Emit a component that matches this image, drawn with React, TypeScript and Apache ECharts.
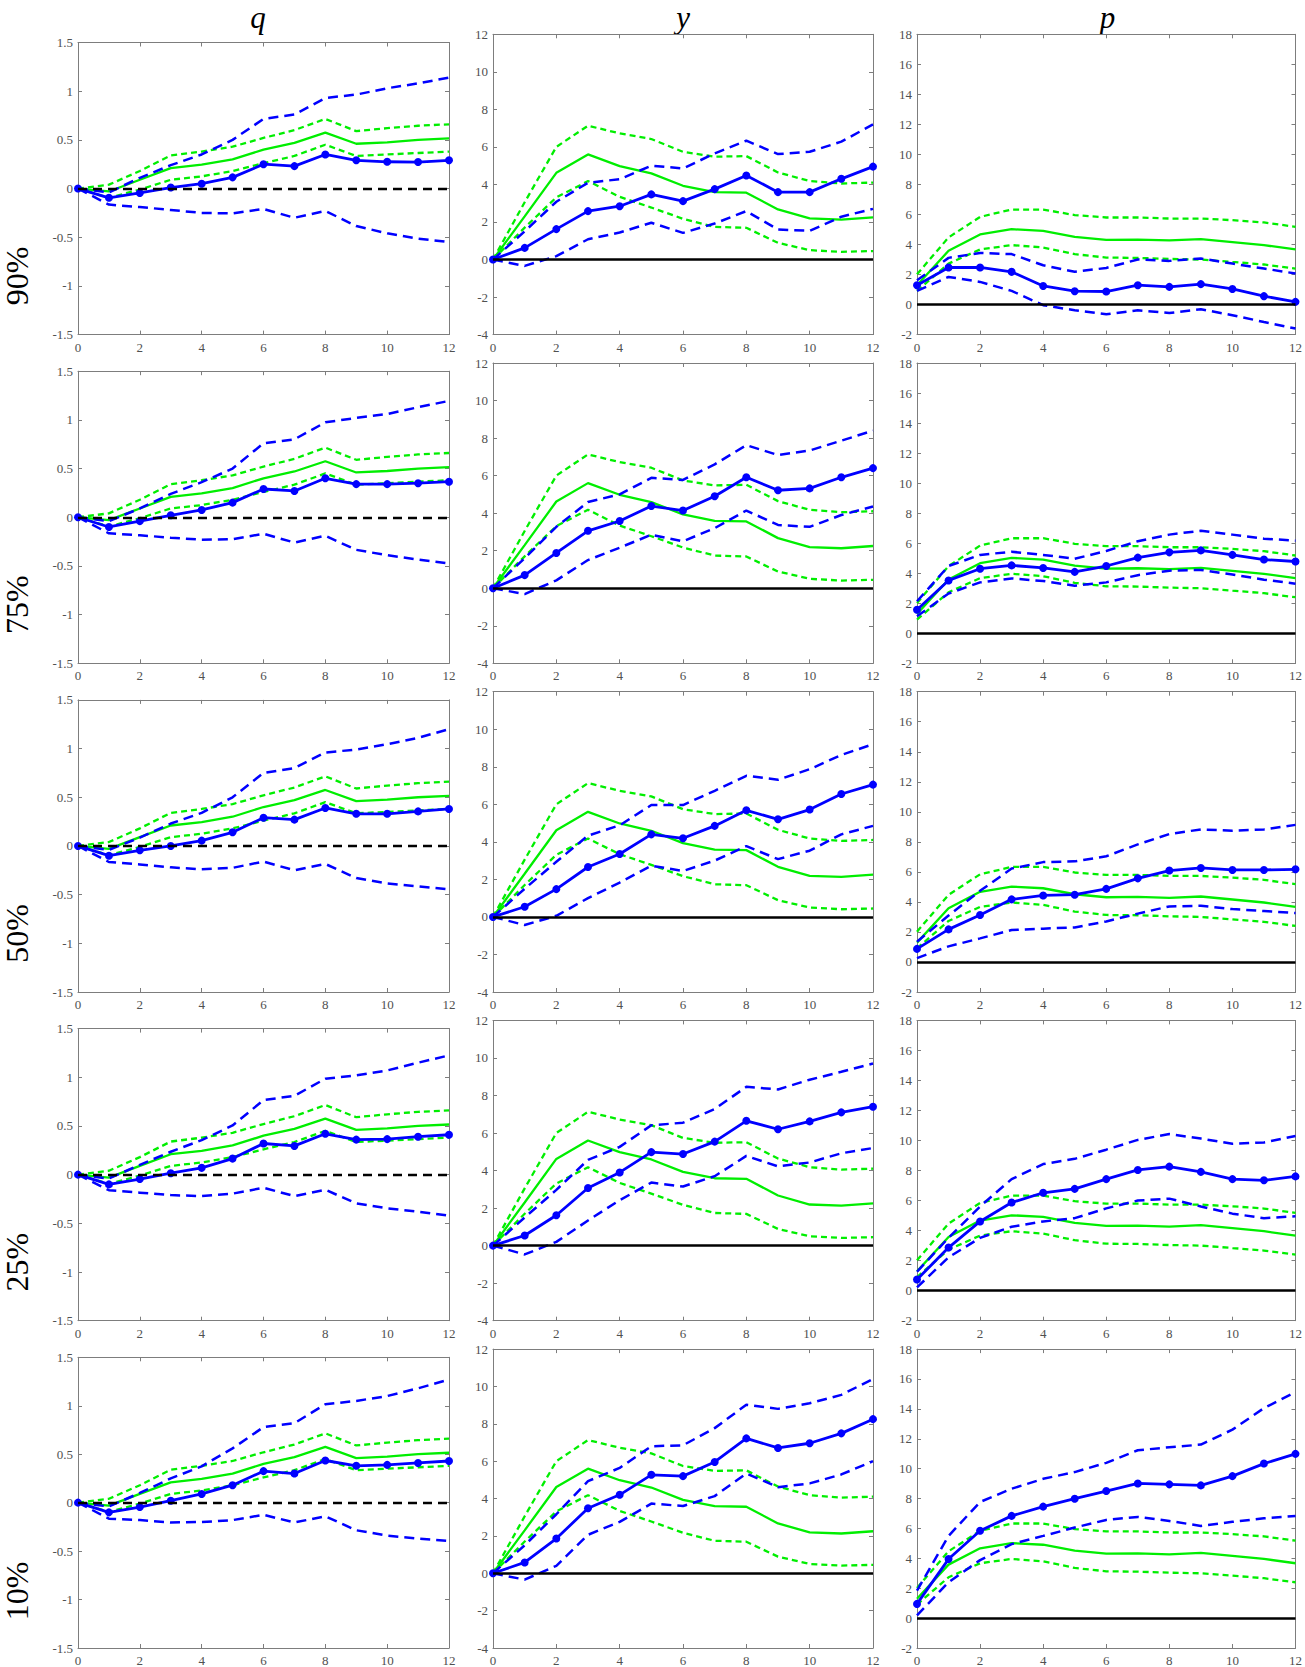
import React, { useEffect, useRef } from "react";
import * as echarts from "echarts";

// ---------------- data ----------------
const horizons = [0, 1, 2, 3, 4, 5, 6, 7, 8, 9, 10, 11, 12];
const columnTitles = ["q", "y", "p"];
const rowLabels = ["90%", "75%", "50%", "25%", "10%"];
const xTickRange = [0, 12, 2];
const qTickRange = [-1.5, 1.5, 0.5];
const yTickRange = [-4, 12, 2];
const pTickRange = [-2, 18, 2];

// baseline (green) responses, identical in every row
const qBaseMid = [0, -0.03, 0.09, 0.21, 0.245, 0.3, 0.4, 0.47, 0.575, 0.46, 0.475, 0.5, 0.515];
const qBaseHi = [0, 0.04, 0.18, 0.34, 0.38, 0.43, 0.52, 0.6, 0.715, 0.59, 0.62, 0.645, 0.66];
const qBaseLo = [0, -0.095, -0.01, 0.09, 0.125, 0.18, 0.26, 0.335, 0.45, 0.335, 0.35, 0.365, 0.38];

const yBaseMid = [0, 2.3, 4.62, 5.6, 4.98, 4.59, 3.93, 3.59, 3.56, 2.67, 2.19, 2.13, 2.25];
const yBaseHi = [0, 3.05, 6.0, 7.13, 6.72, 6.42, 5.74, 5.48, 5.51, 4.64, 4.18, 4.05, 4.1];
const yBaseLo = [0, 1.7, 3.31, 4.18, 3.34, 2.77, 2.17, 1.74, 1.69, 0.89, 0.5, 0.41, 0.45];

const pBaseMid = [1.29, 3.58, 4.67, 5.02, 4.91, 4.51, 4.31, 4.33, 4.27, 4.36, 4.16, 3.96, 3.67];
const pBaseHi = [2.02, 4.47, 5.84, 6.33, 6.33, 5.96, 5.8, 5.8, 5.73, 5.73, 5.62, 5.47, 5.18];
const pBaseLo = [0.91, 2.73, 3.67, 3.96, 3.8, 3.36, 3.13, 3.11, 3.04, 3.0, 2.84, 2.67, 2.4];

// quantile (blue) responses
const q90Mid = [0, -0.095, -0.045, 0.01, 0.05, 0.115, 0.25, 0.23, 0.35, 0.29, 0.275, 0.272, 0.29];
const q90Hi = [0, -0.04, 0.11, 0.24, 0.35, 0.5, 0.715, 0.76, 0.93, 0.965, 1.03, 1.08, 1.14];
const q90Lo = [0, -0.165, -0.19, -0.22, -0.25, -0.255, -0.21, -0.3, -0.23, -0.385, -0.46, -0.515, -0.55];
const q75Mid = [0, -0.1, -0.04, 0.02, 0.075, 0.15, 0.29, 0.27, 0.4, 0.34, 0.34, 0.35, 0.365];
const q75Hi = [0, -0.04, 0.09, 0.24, 0.36, 0.5, 0.76, 0.8, 0.975, 1.02, 1.06, 1.13, 1.195];
const q75Lo = [0, -0.165, -0.185, -0.21, -0.23, -0.225, -0.17, -0.26, -0.19, -0.335, -0.39, -0.435, -0.475];
const q50Mid = [0, -0.1, -0.045, 0.0, 0.055, 0.14, 0.29, 0.27, 0.39, 0.33, 0.33, 0.355, 0.38];
const q50Hi = [0, -0.04, 0.085, 0.23, 0.34, 0.5, 0.75, 0.8, 0.96, 0.99, 1.045, 1.11, 1.2];
const q50Lo = [0, -0.165, -0.19, -0.22, -0.24, -0.225, -0.16, -0.25, -0.185, -0.33, -0.385, -0.415, -0.445];
const q25Mid = [0, -0.1, -0.045, 0.015, 0.07, 0.165, 0.32, 0.295, 0.42, 0.36, 0.365, 0.39, 0.41];
const q25Hi = [0, -0.04, 0.1, 0.235, 0.355, 0.505, 0.765, 0.81, 0.985, 1.02, 1.07, 1.15, 1.225];
const q25Lo = [0, -0.16, -0.185, -0.21, -0.22, -0.195, -0.135, -0.22, -0.155, -0.295, -0.345, -0.38, -0.42];
const q10Mid = [0, -0.1, -0.045, 0.02, 0.09, 0.18, 0.325, 0.3, 0.435, 0.38, 0.39, 0.41, 0.43];
const q10Hi = [0, -0.04, 0.1, 0.25, 0.375, 0.56, 0.78, 0.82, 1.015, 1.05, 1.1, 1.18, 1.27];
const q10Lo = [0, -0.165, -0.18, -0.205, -0.2, -0.18, -0.125, -0.205, -0.14, -0.285, -0.34, -0.37, -0.395];

const y90Mid = [0, 0.62, 1.62, 2.58, 2.84, 3.47, 3.11, 3.75, 4.48, 3.59, 3.59, 4.3, 4.95];
const y90Hi = [0, 1.5, 3.08, 4.09, 4.28, 5.0, 4.85, 5.65, 6.33, 5.62, 5.74, 6.28, 7.2];
const y90Lo = [0, -0.34, 0.18, 1.08, 1.44, 1.96, 1.42, 1.92, 2.58, 1.6, 1.53, 2.28, 2.7];
const y75Mid = [0, 0.7, 1.88, 3.06, 3.58, 4.38, 4.14, 4.9, 5.91, 5.22, 5.32, 5.91, 6.4];
const y75Hi = [0, 1.6, 3.27, 4.59, 5.0, 5.88, 5.77, 6.6, 7.62, 7.1, 7.34, 7.86, 8.4];
const y75Lo = [0, -0.31, 0.42, 1.5, 2.16, 2.85, 2.5, 3.2, 4.14, 3.37, 3.27, 3.9, 4.35];
const y50Mid = [0, 0.54, 1.48, 2.66, 3.35, 4.4, 4.19, 4.85, 5.68, 5.2, 5.72, 6.55, 7.05];
const y50Hi = [0, 1.5, 2.94, 4.33, 4.88, 5.96, 5.96, 6.72, 7.52, 7.31, 7.87, 8.63, 9.2];
const y50Lo = [0, -0.43, 0.06, 1.0, 1.83, 2.73, 2.45, 3.0, 3.77, 3.08, 3.53, 4.4, 4.85];
const y25Mid = [0, 0.54, 1.62, 3.07, 3.9, 4.98, 4.88, 5.54, 6.65, 6.2, 6.62, 7.1, 7.4];
const y25Hi = [0, 1.5, 2.97, 4.57, 5.26, 6.41, 6.55, 7.28, 8.46, 8.32, 8.84, 9.26, 9.7];
const y25Lo = [0, -0.47, 0.2, 1.34, 2.42, 3.36, 3.15, 3.7, 4.78, 4.22, 4.43, 4.92, 5.2];
const y10Mid = [0, 0.58, 1.86, 3.48, 4.2, 5.27, 5.2, 5.96, 7.22, 6.71, 6.96, 7.49, 8.25];
const y10Hi = [0, 1.5, 3.16, 4.93, 5.64, 6.8, 6.85, 7.77, 9.02, 8.8, 9.1, 9.55, 10.4];
const y10Lo = [0, -0.34, 0.4, 2.06, 2.75, 3.73, 3.6, 4.13, 5.34, 4.61, 4.81, 5.29, 6.0];

const p90Mid = [1.29, 2.47, 2.47, 2.18, 1.24, 0.89, 0.87, 1.29, 1.18, 1.36, 1.04, 0.56, 0.18];
const p90Hi = [1.62, 3.11, 3.44, 3.36, 2.62, 2.18, 2.44, 3.0, 2.91, 3.07, 2.73, 2.4, 2.07];
const p90Lo = [0.91, 1.84, 1.51, 0.91, -0.04, -0.38, -0.64, -0.38, -0.56, -0.31, -0.71, -1.16, -1.6];
const p75Mid = [1.57, 3.52, 4.3, 4.52, 4.35, 4.09, 4.48, 5.04, 5.39, 5.52, 5.22, 4.91, 4.78];
const p75Hi = [2.13, 4.48, 5.22, 5.43, 5.22, 4.96, 5.48, 6.13, 6.57, 6.83, 6.57, 6.3, 6.17];
const p75Lo = [1.13, 2.65, 3.39, 3.65, 3.48, 3.17, 3.39, 3.87, 4.17, 4.22, 3.91, 3.57, 3.3];
const p50Mid = [0.87, 2.17, 3.13, 4.17, 4.43, 4.48, 4.87, 5.57, 6.09, 6.26, 6.13, 6.13, 6.17];
const p50Hi = [1.35, 3.09, 4.74, 6.22, 6.65, 6.7, 7.04, 7.83, 8.52, 8.83, 8.74, 8.83, 9.13];
const p50Lo = [0.26, 1.04, 1.57, 2.13, 2.22, 2.3, 2.7, 3.22, 3.7, 3.74, 3.52, 3.39, 3.26];
const p25Mid = [0.74, 2.87, 4.61, 5.87, 6.52, 6.78, 7.43, 8.04, 8.26, 7.91, 7.43, 7.35, 7.61];
const p25Hi = [1.26, 3.52, 5.61, 7.43, 8.43, 8.78, 9.39, 10.04, 10.43, 10.13, 9.78, 9.87, 10.3];
const p25Lo = [0.22, 2.22, 3.52, 4.26, 4.61, 4.83, 5.48, 6.0, 6.13, 5.61, 5.13, 4.83, 4.96];
const p10Mid = [0.95, 3.95, 5.84, 6.84, 7.46, 7.99, 8.5, 9.01, 8.95, 8.88, 9.5, 10.34, 10.99];
const p10Hi = [1.84, 5.5, 7.77, 8.66, 9.32, 9.77, 10.39, 11.23, 11.43, 11.61, 12.61, 14.05, 15.12];
const p10Lo = [0.18, 2.4, 3.88, 4.95, 5.5, 6.06, 6.57, 6.77, 6.5, 6.17, 6.44, 6.68, 6.84];

// ---------------- assembly ----------------
const baselineByCol = [
  [qBaseMid, qBaseHi, qBaseLo],
  [yBaseMid, yBaseHi, yBaseLo],
  [pBaseMid, pBaseHi, pBaseLo],
];
const quantileByRow = [
  [[q90Mid, q90Hi, q90Lo], [y90Mid, y90Hi, y90Lo], [p90Mid, p90Hi, p90Lo]],
  [[q75Mid, q75Hi, q75Lo], [y75Mid, y75Hi, y75Lo], [p75Mid, p75Hi, p75Lo]],
  [[q50Mid, q50Hi, q50Lo], [y50Mid, y50Hi, y50Lo], [p50Mid, p50Hi, p50Lo]],
  [[q25Mid, q25Hi, q25Lo], [y25Mid, y25Hi, y25Lo], [p25Mid, p25Hi, p25Lo]],
  [[q10Mid, q10Hi, q10Lo], [y10Mid, y10Hi, y10Lo], [p10Mid, p10Hi, p10Lo]],
];
const rangeByCol = [qTickRange, yTickRange, pTickRange];

const GREEN = "#00ee00";
const BLUE = "#0000ff";
const AXIS = "#7d7d7d";
const LABEL = "#505050";
const FONT = '"Liberation Serif", "DejaVu Serif", serif';

const colLeft = [78, 493, 917];
const colWidth = [371, 380, 381];
const rowTop0 = 34.3;
const rowPitch = 328.7;
const panelH = 300.3;
const col1Shift = 8.2;

function pairs(vals: number[]) {
  return horizons.map((h, i) => [h, vals[i]]);
}

function buildOption() {
  const grid: any[] = [];
  const xAxis: any[] = [];
  const yAxis: any[] = [];
  const series: any[] = [];
  const graphic: any[] = [];

  const tickStyle = { show: true, inside: true, length: 4, lineStyle: { color: AXIS, width: 1 } };
  const lineStyle = { show: true, onZero: false, lineStyle: { color: AXIS, width: 1 } };
  const labelStyle = { color: LABEL, fontFamily: FONT, fontSize: 13 };

  let g = 0;
  for (let r = 0; r < 5; r++) {
    for (let c = 0; c < 3; c++) {
      const top = rowTop0 + r * rowPitch + (c === 0 ? col1Shift : 0);
      const height = c === 0 ? panelH - col1Shift : panelH;
      grid.push({ left: colLeft[c], top, width: colWidth[c], height, containLabel: false });
      const [ymin, ymax, yint] = rangeByCol[c];
      const [xmin, xmax, xint] = xTickRange;
      xAxis.push({
        type: "value", gridIndex: g, position: "bottom", min: xmin, max: xmax, interval: xint,
        axisLine: lineStyle, axisTick: tickStyle, splitLine: { show: false },
        axisLabel: { ...labelStyle, margin: 6 },
      });
      xAxis.push({
        type: "value", gridIndex: g, position: "top", min: xmin, max: xmax, interval: xint,
        axisLine: lineStyle, axisTick: tickStyle, splitLine: { show: false }, axisLabel: { show: false },
      });
      yAxis.push({
        type: "value", gridIndex: g, position: "left", min: ymin, max: ymax, interval: yint,
        axisLine: lineStyle, axisTick: tickStyle, splitLine: { show: false },
        axisLabel: { ...labelStyle, margin: 5 },
      });
      yAxis.push({
        type: "value", gridIndex: g, position: "right", min: ymin, max: ymax, interval: yint,
        axisLine: lineStyle, axisTick: tickStyle, splitLine: { show: false }, axisLabel: { show: false },
      });

      const xi = 2 * g;
      const yi = 2 * g;
      const common = { type: "line", xAxisIndex: xi, yAxisIndex: yi, silent: true, animation: false };
      const [bMid, bHi, bLo] = baselineByCol[c];
      const [qMid, qHi, qLo] = quantileByRow[r][c];

      series.push({
        ...common, data: pairs(bHi), symbol: "none",
        lineStyle: { color: GREEN, width: 2.3, type: [6, 4] },
        markLine: {
          silent: true, symbol: "none", label: { show: false }, animation: false,
          data: [{ yAxis: 0 }],
          lineStyle: c === 0
            ? { color: "#000", width: 2.3, type: [9, 6] }
            : { color: "#000", width: 2.7, type: "solid" },
        },
      });
      series.push({ ...common, data: pairs(bLo), symbol: "none", lineStyle: { color: GREEN, width: 2.3, type: [6, 4] } });
      series.push({ ...common, data: pairs(bMid), symbol: "none", lineStyle: { color: GREEN, width: 2.3, type: "solid" } });
      series.push({ ...common, data: pairs(qHi), symbol: "none", lineStyle: { color: BLUE, width: 2.5, type: [10, 6] } });
      series.push({ ...common, data: pairs(qLo), symbol: "none", lineStyle: { color: BLUE, width: 2.5, type: [10, 6] } });
      series.push({
        ...common, data: pairs(qMid), symbol: "circle", symbolSize: 8, showSymbol: true,
        itemStyle: { color: BLUE }, lineStyle: { color: BLUE, width: 2.8, type: "solid" },
      });
      g++;
    }
  }

  for (let c = 0; c < 3; c++) {
    graphic.push({
      type: "text",
      x: c === 0 ? 258 : colLeft[c] + colWidth[c] / 2,
      y: 17,
      style: {
        text: columnTitles[c], font: `italic 31px ${FONT}`, fill: "#000",
        textAlign: "center", textVerticalAlign: "middle",
      },
    });
  }
  for (let r = 0; r < 5; r++) {
    graphic.push({
      type: "text",
      x: 17,
      y: 276 + r * rowPitch,
      rotation: Math.PI / 2,
      style: {
        text: rowLabels[r], font: `32px ${FONT}`, fill: "#000",
        textAlign: "center", textVerticalAlign: "middle",
      },
    });
  }

  return { animation: false, backgroundColor: "#fff", grid, xAxis, yAxis, series, graphic };
}

export default function App() {
  const ref = useRef<HTMLDivElement>(null);
  useEffect(() => {
    if (!ref.current) return;
    const chart = echarts.init(ref.current, undefined, { renderer: "svg" });
    chart.setOption(buildOption() as any);
    return () => chart.dispose();
  }, []);
  return (
    <div
      ref={ref}
      style={{ position: "absolute", left: 0, top: 0, width: 1305, height: 1667, background: "#fff" }}
    />
  );
}
